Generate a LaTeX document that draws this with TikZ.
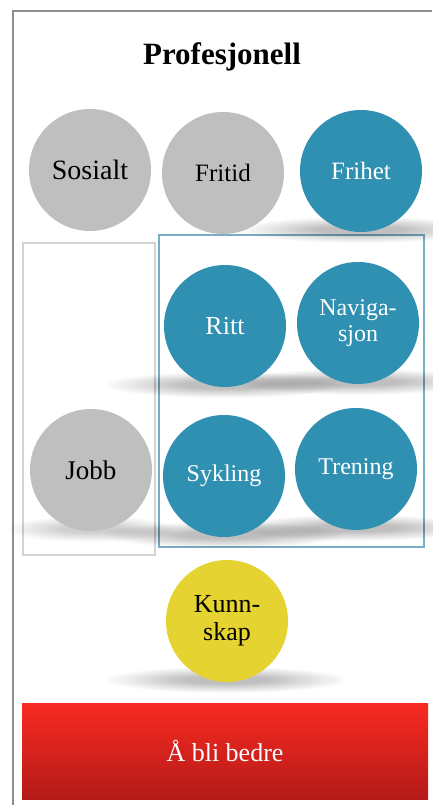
\documentclass[tikz,border=0pt]{standalone}
\usepackage{fontspec}
\setmainfont{Liberation Serif}
\definecolor{framec}{RGB}{139,142,146}
\definecolor{grayc}{RGB}{191,191,191}
\definecolor{bluec}{RGB}{48,144,177}
\definecolor{yellowc}{RGB}{229,211,50}
\definecolor{redtop}{RGB}{248,42,34}
\definecolor{redbot}{RGB}{180,26,24}
\definecolor{grayrect}{RGB}{212,212,212}
\definecolor{bluerect}{RGB}{122,174,198}
\begin{document}
\begin{tikzpicture}[x=1pt,y=-1pt,
  disc/.style={circle, minimum size=122pt, inner sep=0pt, align=center},
  graydisc/.style={disc, fill=grayc, text=black},
  bluedisc/.style={disc, fill=bluec, text=white},
  yellowdisc/.style={disc, fill=yellowc, text=black},
  fs/.style={font=\rmfamily\fontsize{#1}{#1}\selectfont}
]
\useasboundingbox (0,0) rectangle (432,805);
\fill[white] (0,0) rectangle (432,805);
\draw[framec, line width=2pt] (13,805) -- (13,11) -- (432,11);

\node[font=\rmfamily\bfseries\fontsize{31}{31}\selectfont, anchor=base] (title) at (222,65) {Profesjonell};

% group rectangles
\draw[grayrect, line width=2.5pt] (23,243) rectangle (155,555);
\draw[bluerect, line width=2.5pt] (159,235) rectangle (424,547);

% soft shadows (stacked translucent ellipses)
\foreach \cx/\cy/\op/\w in {361/171/0.017/1, 225/326/0.017/1, 358/323/0.017/1, 224/476/0.017/1, 356/469/0.017/1, 227/621/0.017/1, 91/470/0.01/0.7}{
  \foreach \k in {0,...,15}{
    \fill[fill=black, opacity=\op] (\cx,{\cy+59}) ellipse [x radius={\w*(120pt-5pt*\k)}, y radius={13pt-0.6pt*\k}];
  }
}

% circles
\node[graydisc, fs=28] (sosialt) at (90,170) {Sosialt};
\node[graydisc, fs=25] (fritid) at (223,173) {Fritid};
\node[bluedisc, fs=25] (frihet) at (361,171) {Frihet};
\node[bluedisc, fs=26] (ritt) at (225,326) {Ritt};
\node[bluedisc, font=\rmfamily\fontsize{24}{26}\selectfont] (nav) at (358,323) {Naviga-\\sjon};
\node[bluedisc, fs=24] (sykling) at (224,476) {Sykling};
\node[bluedisc, fs=24] (trening) at (356,469) {Trening};
\node[graydisc, fs=27] (jobb) at (91,470) {Jobb};
\node[yellowdisc, font=\rmfamily\fontsize{26}{28}\selectfont] (kunnskap) at (227,621) {Kunn-\\skap};

% bottom bar
\node[rectangle, minimum width=406pt, minimum height=96pt, inner sep=0pt,
      top color=redtop, bottom color=redbot, text=white,
      font=\rmfamily\fontsize{26}{26}\selectfont] (bedre) at (225,751) {Å bli bedre};
\end{tikzpicture}
\end{document}
